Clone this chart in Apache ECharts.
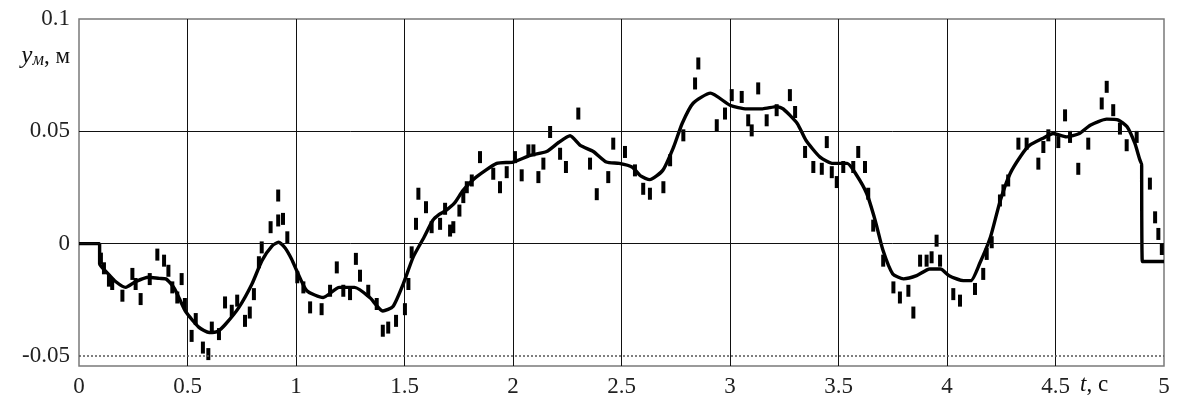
<!DOCTYPE html>
<html>
<head>
<meta charset="utf-8">
<script src="https://cdn.jsdelivr.net/npm/echarts@6/dist/echarts.min.js"></script>
<style>
  html, body { margin: 0; padding: 0; background: #fff; }
  #chart { width: 1179px; height: 399px; }
</style>
</head>
<body>
<div id="chart"></div>
<script>
// smooth (model) response, t in s, y in m
const smoothT = [0, 0.095, 0.095, 0.13, 0.17, 0.215, 0.26, 0.32, 0.37, 0.40, 0.44, 0.49, 0.553, 0.60, 0.64, 0.676, 0.737, 0.797, 0.843, 0.89, 0.92, 0.95, 0.98, 1.003, 1.05, 1.125, 1.20, 1.27, 1.34, 1.40, 1.447, 1.494, 1.54, 1.59, 1.63, 1.66, 1.69, 1.73, 1.77, 1.83, 1.925, 2.0, 2.08, 2.155, 2.21, 2.263, 2.31, 2.37, 2.43, 2.49, 2.55, 2.59, 2.63, 2.69, 2.74, 2.78, 2.83, 2.91, 3.0, 3.077, 3.15, 3.215, 3.245, 3.31, 3.35, 3.415, 3.475, 3.54, 3.58, 3.63, 3.67, 3.705, 3.75, 3.80, 3.86, 3.92, 3.97, 4.01, 4.075, 4.11, 4.15, 4.20, 4.245, 4.29, 4.34, 4.38, 4.44, 4.49, 4.55, 4.61, 4.66, 4.736, 4.79, 4.83, 4.866, 4.897, 4.90, 4.90, 5.0];
const smoothY = [0, 0, -0.009, -0.013, -0.017, -0.0195, -0.017, -0.015, -0.0155, -0.0157, -0.020, -0.030, -0.0373, -0.0396, -0.039, -0.0358, -0.0284, -0.018, -0.0076, -0.001, 0.0006, -0.002, -0.007, -0.012, -0.021, -0.024, -0.0195, -0.0195, -0.024, -0.030, -0.028, -0.018, -0.006, 0.0028, 0.0103, 0.013, 0.0147, 0.018, 0.0237, 0.0296, 0.0357, 0.0363, 0.0393, 0.041, 0.045, 0.048, 0.0437, 0.041, 0.0363, 0.0357, 0.034, 0.030, 0.0285, 0.0326, 0.043, 0.0536, 0.0625, 0.067, 0.0616, 0.060, 0.060, 0.061, 0.060, 0.0535, 0.046, 0.0385, 0.0357, 0.0357, 0.031, 0.0223, 0.010, -0.003, -0.0135, -0.0157, -0.0143, -0.0113, -0.0113, -0.0143, -0.0165, -0.0165, -0.009, 0.0028, 0.019, 0.031, 0.039, 0.0437, 0.0468, 0.049, 0.0475, 0.049, 0.0527, 0.0554, 0.055, 0.052, 0.0446, 0.0357, 0.0357, -0.008, -0.008];

// measured (noisy) samples, drawn as short dashes
const noiseT = [0.101, 0.115, 0.138, 0.153, 0.200, 0.246, 0.261, 0.284, 0.326, 0.361, 0.392, 0.412, 0.430, 0.453, 0.473, 0.488, 0.519, 0.538, 0.571, 0.596, 0.612, 0.645, 0.673, 0.704, 0.729, 0.765, 0.787, 0.806, 0.829, 0.842, 0.883, 0.918, 0.918, 0.940, 0.960, 1.006, 1.034, 1.065, 1.118, 1.157, 1.188, 1.218, 1.249, 1.276, 1.295, 1.333, 1.372, 1.400, 1.425, 1.461, 1.502, 1.518, 1.533, 1.553, 1.564, 1.599, 1.625, 1.664, 1.687, 1.710, 1.725, 1.753, 1.771, 1.787, 1.810, 1.848, 1.909, 1.940, 1.971, 2.009, 2.040, 2.071, 2.094, 2.117, 2.140, 2.171, 2.217, 2.244, 2.301, 2.355, 2.386, 2.439, 2.462, 2.516, 2.562, 2.600, 2.631, 2.693, 2.724, 2.785, 2.839, 2.854, 2.939, 2.977, 3.008, 3.054, 3.084, 3.100, 3.130, 3.169, 3.215, 3.276, 3.300, 3.346, 3.384, 3.423, 3.446, 3.469, 3.492, 3.522, 3.568, 3.591, 3.622, 3.637, 3.660, 3.706, 3.753, 3.783, 3.822, 3.845, 3.876, 3.906, 3.929, 3.952, 3.968, 4.029, 4.060, 4.129, 4.167, 4.183, 4.206, 4.244, 4.260, 4.282, 4.329, 4.367, 4.421, 4.444, 4.467, 4.513, 4.544, 4.567, 4.605, 4.651, 4.713, 4.736, 4.766, 4.797, 4.828, 4.874, 4.935, 4.959, 4.974, 4.990];
const noiseY = [-0.0067, -0.011, -0.0165, -0.0180, -0.0232, -0.0135, -0.0180, -0.0247, -0.0158, -0.0049, -0.0076, -0.0121, -0.0195, -0.0240, -0.0158, -0.0269, -0.0411, -0.0336, -0.0463, -0.0492, -0.0374, -0.0403, -0.0262, -0.0299, -0.0254, -0.0344, -0.0307, -0.0225, -0.0083, -0.0017, 0.0073, 0.0214, 0.0103, 0.0110, 0.0028, -0.0150, -0.0195, -0.0284, -0.0292, -0.0210, -0.0106, -0.0210, -0.0225, -0.0068, -0.0143, -0.0210, -0.0269, -0.0388, -0.0374, -0.0344, -0.0292, -0.0180, -0.0039, 0.0088, 0.0222, 0.0162, 0.0073, 0.0088, 0.0155, 0.0058, 0.0073, 0.0147, 0.0207, 0.0251, 0.0281, 0.0385, 0.0311, 0.0251, 0.0318, 0.0385, 0.0304, 0.0415, 0.0415, 0.0296, 0.0356, 0.0497, 0.0400, 0.0341, 0.0579, 0.0356, 0.0220, 0.0296, 0.0445, 0.0408, 0.0326, 0.0244, 0.0222, 0.0251, 0.0371, 0.0482, 0.0713, 0.0802, 0.0527, 0.0579, 0.0661, 0.0653, 0.0549, 0.0504, 0.0691, 0.0549, 0.0594, 0.0661, 0.0586, 0.0408, 0.0341, 0.0333, 0.0452, 0.0318, 0.0274, 0.0341, 0.0341, 0.0408, 0.0341, 0.0222, 0.0080, -0.0076, -0.0195, -0.0240, -0.0210, -0.0307, -0.0076, -0.0076, -0.0061, 0.0013, -0.0076, -0.0225, -0.0254, -0.0202, -0.0135, -0.0046, 0.0006, 0.0192, 0.0237, 0.0281, 0.0445, 0.0445, 0.0356, 0.0430, 0.0482, 0.0452, 0.0571, 0.0475, 0.0333, 0.0445, 0.0624, 0.0698, 0.0594, 0.0512, 0.0438, 0.0475, 0.0267, 0.0117, 0.0043, -0.0024];

const yTicks = [-0.05, 0, 0.05, 0.1];
const solidGridY = [0, 0.05];
const dottedGridY = [-0.05];

const serif = "'Liberation Serif', 'DejaVu Serif', serif";
const ink = "#111111";

const chart = echarts.init(document.getElementById("chart"), null, { renderer: "canvas" });

chart.setOption({
  animation: false,
  grid: { left: 79, right: 15, top: 19, bottom: 33, show: true, borderColor: "#7a7a7a", borderWidth: 1.5, backgroundColor: "transparent" },
  xAxis: {
    type: "value", min: 0, max: 5, interval: 0.5,
    axisLine: { show: false }, axisTick: { show: false },
    axisLabel: { color: "#222", fontFamily: serif, fontSize: 23, margin: 9 },
    splitLine: { show: true, showMinLine: false, showMaxLine: false, lineStyle: { color: "#111", width: 1 } }
  },
  yAxis: {
    type: "value", min: -0.0545, max: 0.1,
    axisLine: { show: false }, axisTick: { show: false },
    axisLabel: { color: "#222", fontFamily: serif, fontSize: 23, margin: 9, customValues: yTicks },
    splitLine: { show: false }
  },
  graphic: [
    {
      type: "text", right: 1179 - 70, top: 44,
      style: {
        text: "{i|y}{s|м}{n|, м}",
        align: "right",
        rich: {
          i: { fontFamily: serif, fontStyle: "italic", fontSize: 25, fill: ink },
          s: { fontFamily: serif, fontStyle: "italic", fontSize: 18, fill: ink, verticalAlign: "bottom", padding: [8, 0, 0, 0] },
          n: { fontFamily: serif, fontSize: 23, fill: ink }
        }
      }
    },
    {
      type: "text", left: 1080, top: 373,
      style: {
        text: "{i|t}{n|, c}",
        rich: {
          i: { fontFamily: serif, fontStyle: "italic", fontSize: 23, fill: ink },
          n: { fontFamily: serif, fontSize: 23, fill: ink }
        }
      }
    }
  ],
  series: [
    {
      name: "grid", type: "line", data: [], z: 1, silent: true,
      markLine: {
        silent: true, symbol: "none", label: { show: false }, animation: false,
        data: [
          ...solidGridY.map(v => ({ yAxis: v, lineStyle: { color: "#111", width: 1, type: "solid" } })),
          ...dottedGridY.map(v => ({ yAxis: v, lineStyle: { color: "#555", width: 1.5, type: [2, 2] } }))
        ]
      }
    },
    {
      name: "measured", type: "scatter", z: 3,
      data: noiseT.map((t, i) => [t, noiseY[i]]),
      symbol: "rect", symbolSize: [4, 12],
      itemStyle: { color: "#000", opacity: 1 }
    },
    {
      name: "model", type: "line", z: 4,
      data: smoothT.map((t, i) => [t, smoothY[i]]),
      showSymbol: false, smooth: 0.2,
      lineStyle: { color: "#000", width: 3.4 }
    }
  ]
});
</script>
</body>
</html>
